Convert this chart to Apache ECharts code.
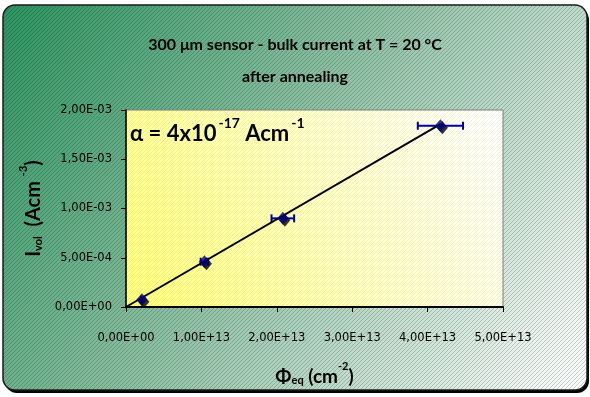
<!DOCTYPE html>
<html>
<head>
<meta charset="utf-8">
<script src="https://cdn.jsdelivr.net/npm/echarts@6/dist/echarts.min.js"></script>
<style>
  html, body { margin: 0; padding: 0; background: #ffffff; }
  #chart { width: 590px; height: 397px; }
</style>
</head>
<body>
<div id="chart"></div>
<script>
// Fluence (neq/cm^2) and volume-normalised bulk current (A/cm^3)
const fluence = [2.1e12, 1.04e13, 2.08e13, 4.17e13];
const currentVol = [7.3e-5, 4.6e-4, 9.0e-4, 1.84e-3];
// Horizontal uncertainty on the fluence
const fluenceErr = [1e11, 5e11, 1.5e12, 3e12];
// Linear fit through the origin
const fitX = [0, 4.17e13];
const fitY = [0, 1.857e-3];
// Axis ranges and steps
const xTicks = { min: 0, max: 5e13, step: 1e13 };
const yTicks = { min: 0, max: 2e-3, step: 5e-4 };

const FONT = 'Lato';

// Format numbers like "1,50E-03"
function sci(v) {
  if (v === 0) return '0,00E+00';
  let e = Math.floor(Math.log10(Math.abs(v)) + 1e-9);
  let m = v / Math.pow(10, e);
  const sign = e < 0 ? '-' : '+';
  const ae = Math.abs(e);
  return m.toFixed(2).replace('.', ',') + 'E' + sign + (ae < 10 ? '0' + ae : ae);
}

// Diagonal hatch texture drawn on a canvas of the given size
function hatchCanvas(w, h, color, r) {
  const c = document.createElement('canvas');
  c.width = w; c.height = h;
  const g = c.getContext('2d');
  if (r) {
    g.beginPath();
    g.moveTo(r, 0); g.lineTo(w - r, 0); g.quadraticCurveTo(w, 0, w, r);
    g.lineTo(w, h - r); g.quadraticCurveTo(w, h, w - r, h);
    g.lineTo(r, h); g.quadraticCurveTo(0, h, 0, h - r);
    g.lineTo(0, r); g.quadraticCurveTo(0, 0, r, 0);
    g.closePath(); g.clip();
  }
  g.fillStyle = color;
  for (let y = 0; y < h; y++) {
    for (let x = (3 - (y % 4)); x < w; x += 4) g.fillRect(x, y, 1, 1);
  }
  return c;
}

const W = 590, H = 397;
const grid = { left: 126, right: 87, top: 110, bottom: 90 };
const plotW = W - grid.left - grid.right;
const plotH = H - grid.top - grid.bottom;

const chart = echarts.init(document.getElementById('chart'), null, { renderer: 'canvas' });

const errData = fluence.map((x, i) => [x, currentVol[i], fluenceErr[i]]);
const ptData = fluence.map((x, i) => [x, currentVol[i]]);
const fitData = fitX.map((x, i) => [x, fitY[i]]);

const box = { x: 3, y: 5, w: 584, h: 385, r: 12 };

function nameRich(size) {
  return {
    b: { fontFamily: FONT, fontWeight: 'bold', fontSize: size, color: '#000', verticalAlign: 'bottom', lineHeight: size + 6 },
    sub: { fontFamily: FONT, fontWeight: 'bold', fontSize: 11, color: '#000', verticalAlign: 'bottom', lineHeight: 9 },
    sup: { fontFamily: FONT, fontWeight: 'bold', fontSize: 11, color: '#000', verticalAlign: 'top', lineHeight: 12 }
  };
}

chart.setOption({
  animation: false,
  title: [
    {
      text: '300 μm sensor - bulk current at T = 20 °C',
      left: 'center', top: 32,
      textStyle: { fontFamily: FONT, fontWeight: 'bold', fontSize: 16, color: '#000' }
    },
    {
      text: 'after annealing',
      left: 'center', top: 64,
      textStyle: { fontFamily: FONT, fontWeight: 'bold', fontSize: 16, color: '#000' }
    }
  ],
  graphic: [
    { type: 'rect', z: -10, shape: { x: box.x + 2, y: box.y + 3, width: box.w, height: box.h, r: box.r },
      style: { fill: '#000' } },
    { type: 'rect', z: -9, shape: { x: box.x, y: box.y, width: box.w, height: box.h, r: box.r },
      style: {
        fill: new echarts.graphic.LinearGradient(0, 0, 1, 1, [
          { offset: 0, color: '#2c9460' },
          { offset: 0.45, color: '#8cc0a2' },
          { offset: 1, color: '#ffffff' }
        ]),
        stroke: '#1a1a1a', lineWidth: 1.5
      } },
    { type: 'image', z: -8, x: box.x + 1, y: box.y + 1,
      style: { image: hatchCanvas(box.w - 2, box.h - 2, 'rgba(0,0,0,0.2)', box.r - 1),
               x: 0, y: 0, width: box.w - 2, height: box.h - 2 } },
    { type: 'rect', z: -7, shape: { x: grid.left, y: grid.top, width: plotW, height: plotH },
      style: {
        fill: new echarts.graphic.LinearGradient(0, 1, 1, 0, [
          { offset: 0, color: '#ffff7a' },
          { offset: 0.55, color: '#ffffc4' },
          { offset: 1, color: '#ffffff' }
        ])
      } },
    { type: 'image', z: -6, x: grid.left, y: grid.top,
      style: { image: hatchCanvas(plotW, plotH, 'rgba(0,0,0,0.06)', 0),
               x: 0, y: 0, width: plotW, height: plotH } },
    {
      type: 'text', z: 10, left: 130, top: 116,
      style: {
        text: '{m|α = 4x10}{s|-17}{m| Acm}{s|-1}',
        rich: {
          m: { fontFamily: FONT, fontWeight: 'bold', fontSize: 22, color: '#000', verticalAlign: 'bottom', lineHeight: 29 },
          s: { fontFamily: FONT, fontWeight: 'bold', fontSize: 14, color: '#000', verticalAlign: 'top', lineHeight: 14, padding: [0, 0, 0, 2] }
        }
      }
    }
  ],
  grid: {
    left: grid.left, right: grid.right, top: grid.top, bottom: grid.bottom,
    show: true, backgroundColor: 'transparent', borderColor: '#7f7f7f', borderWidth: 1
  },
  xAxis: {
    type: 'value', min: xTicks.min, max: xTicks.max, interval: xTicks.step,
    splitLine: { show: false },
    axisLine: { show: true, onZero: false, lineStyle: { color: '#000', width: 2 } },
    axisTick: { show: true, length: 5, lineStyle: { color: '#000', width: 1 } },
    axisLabel: { fontFamily: 'DejaVu Sans', fontSize: 11.5, color: '#000', margin: 25,
      formatter: sci },
    name: '{b|Φ}{sub|eq}{b| (cm}{sup|-2}{b|)}',
    nameLocation: 'middle', nameGap: 54,
    nameTextStyle: { rich: nameRich(19) }
  },
  yAxis: {
    type: 'value', min: yTicks.min, max: yTicks.max, interval: yTicks.step,
    splitLine: { show: false },
    axisLine: { show: true, onZero: false, lineStyle: { color: '#000', width: 1.5 } },
    axisTick: { show: true, length: 5, lineStyle: { color: '#000', width: 1 } },
    axisLabel: { fontFamily: 'DejaVu Sans', fontSize: 11.5, color: '#000', margin: 14,
      formatter: sci },
    name: '{b|I}{sub|vol}{b|  (Acm }{sup|-3}{b|)}',
    nameLocation: 'middle', nameGap: 80,
    nameTextStyle: { rich: nameRich(20) }
  },
  series: [
    {
      type: 'custom', name: 'errors', z: 3,
      data: errData,
      renderItem: function (params, api) {
        const x = api.value(0), y = api.value(1), e = api.value(2);
        const p0 = api.coord([x - e, y]);
        const p1 = api.coord([x + e, y]);
        const cap = 4;
        const style = { stroke: '#000099', lineWidth: 2, fill: null };
        return {
          type: 'group',
          children: [
            { type: 'line', shape: { x1: p0[0], y1: p0[1], x2: p1[0], y2: p1[1] }, style: style },
            { type: 'line', shape: { x1: p0[0], y1: p0[1] - cap, x2: p0[0], y2: p0[1] + cap }, style: style },
            { type: 'line', shape: { x1: p1[0], y1: p1[1] - cap, x2: p1[0], y2: p1[1] + cap }, style: style }
          ]
        };
      }
    },
    {
      type: 'line', name: 'fit', z: 4,
      data: fitData, showSymbol: false, symbol: 'none',
      lineStyle: { color: '#000', width: 2 }
    },
    {
      type: 'scatter', name: 'data', z: 5,
      data: ptData, symbol: 'diamond', symbolSize: [11, 13],
      itemStyle: { color: '#000080', shadowColor: '#000', shadowOffsetX: 2, shadowOffsetY: 2, shadowBlur: 0 }
    }
  ]
});
</script>
</body>
</html>
